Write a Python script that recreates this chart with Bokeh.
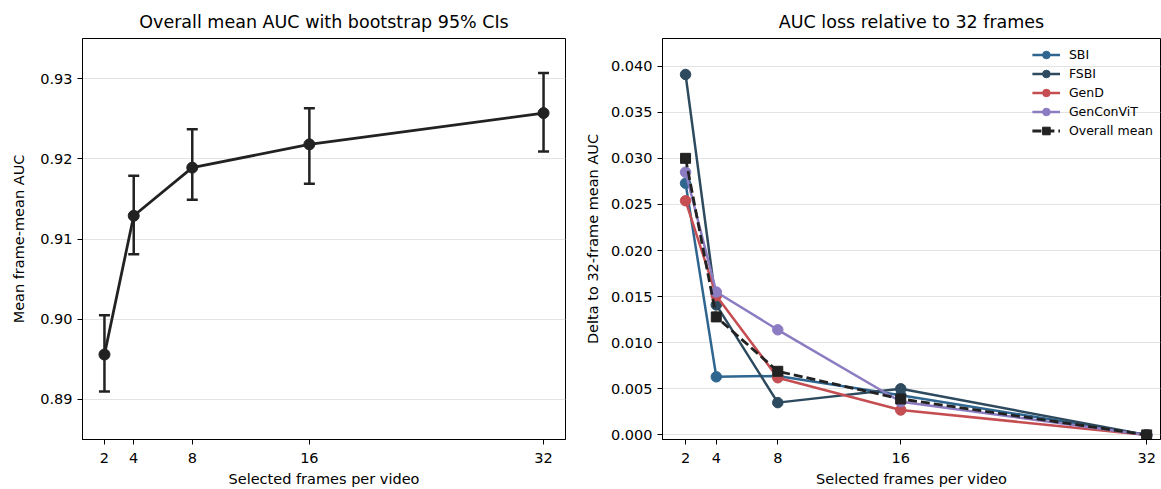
from bokeh.plotting import figure
from bokeh.layouts import row
from bokeh.models import (ColumnDataSource, Whisker, TeeHead, FixedTicker, Range1d,
                          Legend, LegendItem, NumeralTickFormatter)
from bokeh.embed import file_html
from bokeh.resources import INLINE

# ---------------- data ----------------
frames = [2, 4, 8, 16, 32]
overall_auc = [0.8956, 0.9129, 0.9189, 0.9218, 0.9257]
ci_lower = [0.8910, 0.9081, 0.9149, 0.9169, 0.9209]
ci_upper = [0.9005, 0.9179, 0.9237, 0.9263, 0.9307]

series_names = ["SBI", "FSBI", "GenD", "GenConViT", "Overall mean"]
delta_sbi = [0.0273, 0.0063, 0.0064, 0.0043, 0.0]
delta_fsbi = [0.0391, 0.0141, 0.0035, 0.0050, 0.0]
delta_gend = [0.0254, 0.0151, 0.0062, 0.0027, 0.0]
delta_genconvit = [0.0285, 0.0155, 0.0114, 0.0036, 0.0]
delta_overall = [0.0300, 0.0128, 0.0069, 0.0039, 0.0]

left_yticks = [0.89, 0.90, 0.91, 0.92, 0.93]
right_yticks = [0.0, 0.005, 0.010, 0.015, 0.020, 0.025, 0.030, 0.035, 0.040]

FONT = "DejaVu Sans"
DARK = "#222222"
colors = ["#2f6690", "#2d4a5e", "#c44e52", "#8c7cc2", DARK]


def style(p, yticks, yfmt):
    p.title.text_font = FONT
    p.title.text_font_size = "17.5px"
    p.title.text_font_style = "normal"
    p.title.text_color = "black"
    p.title.align = "center"
    p.title.standoff = 13
    p.outline_line_color = "black"
    p.outline_line_width = 1
    p.outline_line_alpha = 1
    p.xgrid.grid_line_color = None
    p.ygrid.grid_line_color = "#e3e3e3"
    p.ygrid.grid_line_width = 1
    p.xaxis.ticker = FixedTicker(ticks=frames)
    p.yaxis.ticker = FixedTicker(ticks=yticks)
    p.yaxis.formatter = NumeralTickFormatter(format=yfmt)
    for ax in (p.xaxis[0], p.yaxis[0]):
        ax.axis_line_color = "black"
        ax.major_tick_line_color = "black"
        ax.major_tick_out = 5
        ax.major_tick_in = 0
        ax.minor_tick_line_color = None
        ax.major_label_text_font = FONT
        ax.major_label_text_font_size = "14.5px"
        ax.major_label_text_color = "black"
        ax.major_label_standoff = 5
        ax.axis_label_text_font = FONT
        ax.axis_label_text_font_size = "14.5px"
        ax.axis_label_text_font_style = "normal"
        ax.axis_label_text_color = "black"
    p.xaxis.major_label_standoff = 8
    p.xaxis.axis_label_standoff = 5
    p.background_fill_color = "white"
    p.border_fill_color = "white"


# ---------------- left plot ----------------
left = figure(width=580, height=489, output_backend="svg", toolbar_location=None,
              title="Overall mean AUC with bootstrap 95% CIs",
              x_range=Range1d(0.5, 33.5), y_range=Range1d(0.885, 0.935),
              min_border_left=82, min_border_right=15, min_border_top=38,
              min_border_bottom=48)
style(left, left_yticks, "0.00")
left.yaxis.axis_label_standoff = 10
left.xaxis.axis_label = "Selected frames per video"
left.yaxis.axis_label = "Mean frame-mean AUC"

src = ColumnDataSource(dict(x=frames, y=overall_auc, lo=ci_lower, hi=ci_upper))
left.add_layout(Whisker(base="x", lower="lo", upper="hi", source=src,
                        line_color=DARK, line_width=2.5,
                        upper_head=TeeHead(size=11, line_color=DARK, line_width=2.5),
                        lower_head=TeeHead(size=11, line_color=DARK, line_width=2.5)))
left.line("x", "y", source=src, line_color=DARK, line_width=2.8)
left.scatter("x", "y", source=src, marker="circle", size=11, fill_color=DARK,
             line_color=DARK)

# ---------------- right plot ----------------
right = figure(width=581, height=489, output_backend="svg", toolbar_location=None,
               title="AUC loss relative to 32 frames",
               x_range=Range1d(0.5, 32.9), y_range=Range1d(-0.0005, 0.043),
               min_border_left=82, min_border_right=1, min_border_top=38,
               min_border_bottom=48)
style(right, right_yticks, "0.000")
right.yaxis.axis_label_standoff = 7
right.xaxis.axis_label = "Selected frames per video"
right.yaxis.axis_label = "Delta to 32-frame mean AUC"

all_series = [delta_sbi, delta_fsbi, delta_gend, delta_genconvit, delta_overall]
items = []
for name, vals, col in zip(series_names, all_series, colors):
    s = ColumnDataSource(dict(x=frames, y=vals))
    if name == "Overall mean":
        ln = right.line("x", "y", source=s, line_color=col, line_width=2.8,
                        line_dash="9 4")
        mk = right.scatter("x", "y", source=s, marker="square", size=10,
                           fill_color=col, line_color=col)
    else:
        ln = right.line("x", "y", source=s, line_color=col, line_width=2.5)
        mk = right.scatter("x", "y", source=s, marker="circle", size=10.5,
                           fill_color=col, line_color=col)
    items.append(LegendItem(label=name, renderers=[ln, mk]))

legend = Legend(items=items, location="top_right")
legend.label_text_font = FONT
legend.label_text_font_size = "12.5px"
legend.label_text_color = "black"
legend.background_fill_alpha = 0
legend.border_line_alpha = 0
legend.glyph_width = 28
legend.glyph_height = 19
legend.label_height = 19
legend.spacing = 0
legend.padding = 4
legend.margin = 3
legend.label_standoff = 9
right.add_layout(legend)

layout = row(left, right, spacing=0)
open("out.html", "w").write(file_html(layout, INLINE))
